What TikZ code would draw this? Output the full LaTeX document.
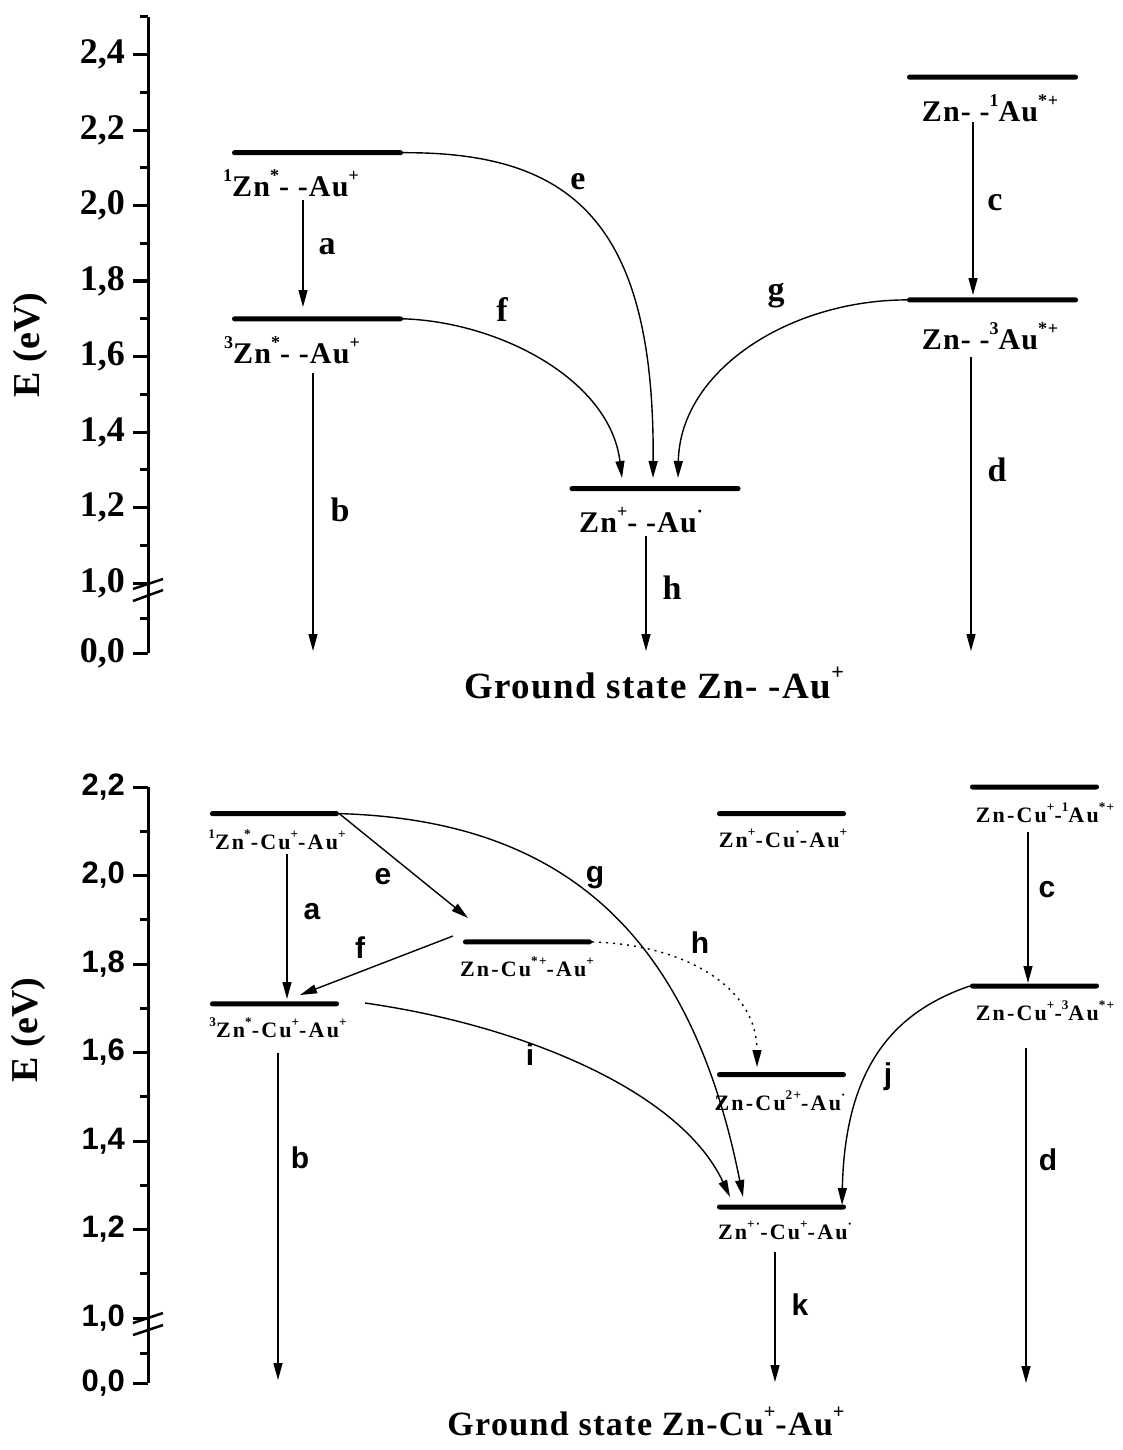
\documentclass[tikz,border=0pt]{standalone}
\usepackage{fontspec}
\setmainfont{Liberation Serif}
\newfontfamily\spacedserif[LetterSpace=4]{Liberation Serif}
\newfontfamily\wideserif[LetterSpace=10]{Liberation Serif}
\newfontfamily\arialfont{Liberation Sans}
\usetikzlibrary{arrows.meta}
\newcommand\sups[1]{\raisebox{0.5em}{\scalebox{0.6}{#1}}}
\tikzset{
  bar/.style={fill, inner sep=0pt, minimum height=5pt, rounded corners=2.4pt},
  trans/.style={line width=1.4pt, -{Triangle[length=17pt,width=9pt]}},
  axisln/.style={line width=3pt},
  ticktop/.style={inner sep=0pt, anchor=east, font=\bfseries\fontsize{36}{36}\selectfont},
  tickbot/.style={inner sep=0pt, anchor=east, font=\arialfont\bfseries\fontsize{31}{31}\selectfont},
  lvltop/.style={inner sep=0pt, font=\spacedserif\bfseries\fontsize{30}{30}\selectfont},
  lvlbot/.style={inner sep=0pt, font=\wideserif\bfseries\fontsize{22}{22}\selectfont},
  lettop/.style={inner sep=0pt, font=\bfseries\fontsize{34}{34}\selectfont},
  letbot/.style={inner sep=0pt, font=\arialfont\bfseries\fontsize{30}{30}\selectfont},
  ground/.style={inner sep=0pt, anchor=base, font=\spacedserif\bfseries\fontsize{#1}{#1}\selectfont},
  yname/.style={inner sep=0pt, rotate=90, font=\bfseries\fontsize{38}{38}\selectfont},
}
\begin{document}
\begin{tikzpicture}[x=1pt,y=-1pt]
  \useasboundingbox (0,0) rectangle (1122,1450);
  % (1) upper scheme: Zn--Au+
  % axis
  \draw[axisln] (148,16.75) -- (148,653);
  \foreach \e/\lab [count=\i] in {2.4/{2,4},2.2/{2,2},2.0/{2,0},1.8/{1,8},1.6/{1,6},1.4/{1,4},1.2/{1,2},1.0/{1,0}} {
    \draw[axisln] (133,{960.5-377.5*\e}) -- (148,{960.5-377.5*\e});
    \node[ticktop] (ta\i) at (125,{960.5-377.5*\e}) {\lab};
  }
  \foreach \e in {2.5,2.3,2.1,1.9,1.7,1.5,1.3,1.1}
    \draw[axisln] (140,{960.5-377.5*\e}) -- (148,{960.5-377.5*\e});
  \draw[axisln] (140,618) -- (148,618);
  \draw[axisln] (133,653) -- (148,653);
  \node[ticktop] (ta0) at (125,653) {0,0};
  \draw[line width=2.5pt] (133,589) -- (163,579);
  \draw[line width=2.5pt] (133,601) -- (163,590);
  \node[yname] (ya) at (30,345) {E (eV)};
  % levels
  \node[bar, minimum width=171pt] (s1) at (317.5,152.7) {};
  \node[bar, minimum width=171pt] (s3) at (317.5,318.8) {};
  \node[bar, minimum width=171pt] (sion) at (655,488.6) {};
  \node[bar, minimum width=171pt] (sau1) at (992.5,77.2) {};
  \node[bar, minimum width=171pt] (sau3) at (992.5,299.9) {};
  \node[lvltop] (ls1) at (291,183) {\sups{1}Zn\sups{*}- -Au\sups{+}};
  \node[lvltop] (ls3) at (292,350) {\sups{3}Zn\sups{*}- -Au\sups{+}};
  \node[lvltop] (lsion) at (641,520) {Zn\sups{+}- -Au\sups{·}};
  \node[lvltop] (lsau1) at (990,108) {Zn- -\sups{1}Au\sups{*+}};
  \node[lvltop] (lsau3) at (990,336) {Zn- -\sups{3}Au\sups{*+}};
  % arrow ends
  \coordinate (a0) at (303,200);  \coordinate (a1) at (303,307);
  \coordinate (b0) at (313,373);  \coordinate (b1) at (313,651);
  \coordinate (c0) at (973,122);  \coordinate (c1) at (973,295);
  \coordinate (d0) at (971,357);  \coordinate (d1) at (971,651);
  \coordinate (h0) at (646,536);  \coordinate (h1) at (646,651);
  \coordinate (e1) at (653,478);
  \coordinate (f1) at (622,478);
  \coordinate (g1) at (678,478);
  \draw[trans] (a0) -- (a1);
  \draw[trans] (b0) -- (b1);
  \draw[trans] (c0) -- (c1);
  \draw[trans] (d0) -- (d1);
  \draw[trans] (h0) -- (h1);
  \draw[trans] (s1.east) .. controls (570,152) and (655,220) .. (e1);
  \draw[trans] (s3.east) .. controls (500,322) and (610,380) .. (f1);
  \draw[trans] (sau3.west) .. controls (790,300) and (680,370) .. (g1);
  \node[lettop] (xa) at (327,247) {a};
  \node[lettop] (xb) at (340,510) {b};
  \node[lettop] (xc) at (995,203) {c};
  \node[lettop] (xd) at (997,470) {d};
  \node[lettop] (xe) at (578,182) {e};
  \node[lettop] (xf) at (502,310) {f};
  \node[lettop] (xg) at (776,296) {g};
  \node[lettop] (xh) at (672,588) {h};
  \node[ground=37] (gs1) at (654,698) {Ground state Zn- -Au\sups{+}};

  % (2) lower scheme: Zn-Cu+-Au+
  % axis
  \draw[axisln] (148,787) -- (148,1383);
  \foreach \e/\lab [count=\i] in {2.2/{2,2},2.0/{2,0},1.8/{1,8},1.6/{1,6},1.4/{1,4},1.2/{1,2},1.0/{1,0}} {
    \draw[axisln] (133,{1760.5-442.5*\e}) -- (148,{1760.5-442.5*\e});
    \node[tickbot] (tb\i) at (125,{1760.5-442.5*\e}) {\lab};
  }
  \foreach \e in {2.1,1.9,1.7,1.5,1.3,1.1}
    \draw[axisln] (140,{1760.5-442.5*\e}) -- (148,{1760.5-442.5*\e});
  \draw[axisln] (140,1353) -- (148,1353);
  \draw[axisln] (133,1383) -- (148,1383);
  \node[tickbot] (tb0) at (125,1383) {0,0};
  \draw[line width=2.5pt] (133,1323) -- (163,1313);
  \draw[line width=2.5pt] (133,1335) -- (163,1325);
  \node[yname] (yb) at (28,1030) {E (eV)};
  % levels
  \node[bar, minimum width=129pt] (t1) at (274.5,813.6) {};
  \node[bar, minimum width=129pt] (t3) at (274.5,1003.8) {};
  \node[bar, minimum width=129pt] (tcu) at (527.5,941.9) {};
  \node[bar, minimum width=129pt] (tion) at (781.5,813.6) {};
  \node[bar, minimum width=129pt] (tau1) at (1034.5,787) {};
  \node[bar, minimum width=129pt] (tau3) at (1034.5,986) {};
  \node[bar, minimum width=129pt] (tcu2) at (781.5,1074.6) {};
  \node[bar, minimum width=129pt] (tct) at (781.5,1207) {};
  \node[lvlbot] (lt1) at (277,840) {\sups{1}Zn\sups{*}-Cu\sups{+}-Au\sups{+}};
  \node[lvlbot] (lt3) at (278,1028) {\sups{3}Zn\sups{*}-Cu\sups{+}-Au\sups{+}};
  \node[lvlbot] (ltcu) at (527,967) {Zn-Cu\sups{*+}-Au\sups{+}};
  \node[lvlbot] (ltion) at (783,838) {Zn\sups{+}-Cu\sups{·}-Au\sups{+}};
  \node[lvlbot] (ltau1) at (1045,813) {Zn-Cu\sups{+}-\sups{1}Au\sups{*+}};
  \node[lvlbot] (ltau3) at (1045,1011) {Zn-Cu\sups{+}-\sups{3}Au\sups{*+}};
  \node[lvlbot] (ltcu2) at (780,1101) {Zn-Cu\sups{2+}-Au\sups{·}};
  \node[lvlbot] (ltct) at (785,1230) {Zn\sups{+·}-Cu\sups{+}-Au\sups{·}};
  % arrow ends
  \coordinate (pa0) at (287,854);  \coordinate (pa1) at (287,999);
  \coordinate (pb0) at (278,1053); \coordinate (pb1) at (278,1380);
  \coordinate (pc0) at (1028,832); \coordinate (pc1) at (1028,983);
  \coordinate (pd0) at (1026,1048); \coordinate (pd1) at (1026,1383);
  \coordinate (pk0) at (775,1252); \coordinate (pk1) at (775,1382);
  \coordinate (pe1) at (468,918);
  \coordinate (pf0) at (453,936);  \coordinate (pf1) at (300,995);
  \coordinate (pg1) at (743,1197);
  \coordinate (ph1) at (757,1067);
  \coordinate (pi0) at (365,1003); \coordinate (pi1) at (730,1197);
  \coordinate (pj1) at (842,1205);
  \draw[trans] (pa0) -- (pa1);
  \draw[trans] (pb0) -- (pb1);
  \draw[trans] (pc0) -- (pc1);
  \draw[trans] (pd0) -- (pd1);
  \draw[trans] (pk0) -- (pk1);
  \draw[trans] (t1.east) -- (pe1);
  \draw[trans] (pf0) -- (pf1);
  \draw[trans] (t1.east) .. controls (560,820) and (690,930) .. (pg1);
  \draw[trans, dash pattern=on 2pt off 5pt] (tcu.east) .. controls (690,945) and (757,990) .. (ph1);
  \draw[trans] (pi0) .. controls (520,1025) and (680,1090) .. (pi1);
  \draw[trans] (tau3.west) .. controls (900,1010) and (845,1060) .. (pj1);
  \node[letbot] (ya1) at (312,912) {a};
  \node[letbot] (yb1) at (300,1158) {b};
  \node[letbot] (yc1) at (1047,890) {c};
  \node[letbot] (yd1) at (1048,1160) {d};
  \node[letbot] (ye1) at (383,877) {e};
  \node[letbot] (yf1) at (360,948) {f};
  \node[letbot] (yg1) at (595,878) {g};
  \node[letbot] (yh1) at (700,943) {h};
  \node[letbot] (yi1) at (530,1055) {i};
  \node[letbot] (yj1) at (888,1077) {j};
  \node[letbot] (yk1) at (800,1305) {k};
  \node[ground=34] (gs2) at (646,1435) {Ground state Zn-Cu\sups{+}-Au\sups{+}};
\end{tikzpicture}
\end{document}
